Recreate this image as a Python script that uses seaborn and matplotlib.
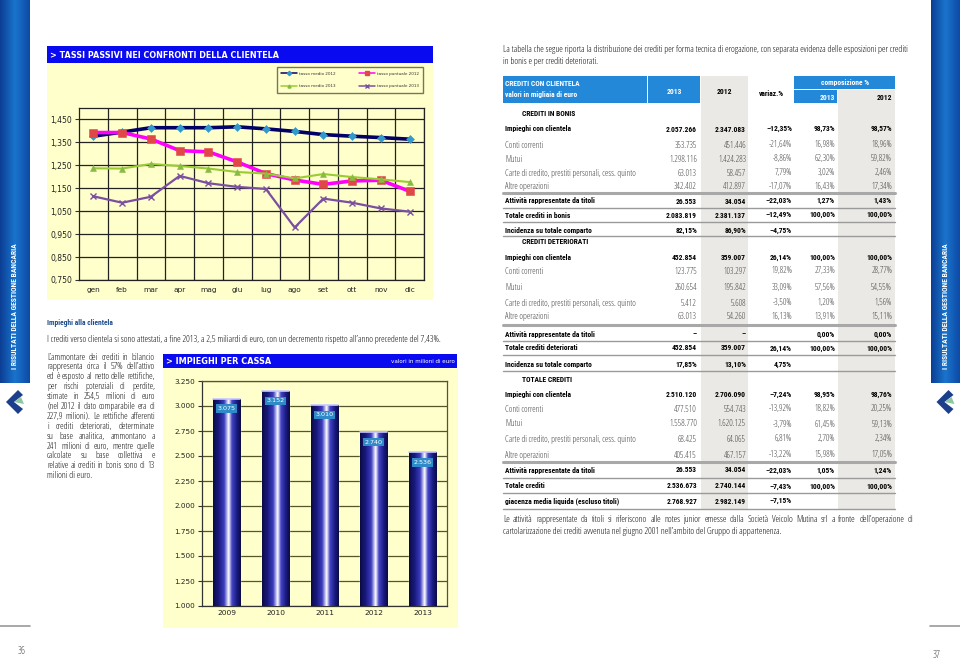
import warnings
import numpy as np
import pandas as pd
import matplotlib
matplotlib.use('Agg')
import matplotlib.pyplot as plt
import seaborn as sns
from matplotlib.patches import Rectangle, Polygon
from matplotlib.lines import Line2D
from matplotlib.colors import LinearSegmentedColormap

sns.set_theme(style='white')
plt.rcParams['font.family'] = ['DejaVu Sans']
warnings.filterwarnings('ignore')

W, H = 960, 664

# ---- line chart data (tassi passivi) ----
mesi = ['gen', 'feb', 'mar', 'apr', 'mag', 'giu', 'lug', 'ago', 'set', 'ott', 'nov', 'dic']
medio_2012 = [1.377, 1.395, 1.414, 1.414, 1.414, 1.418, 1.409, 1.398, 1.384, 1.377, 1.371, 1.364]
puntuale_2012 = [1.393, 1.393, 1.365, 1.314, 1.309, 1.265, 1.214, 1.186, 1.167, 1.182, 1.185, 1.137]
medio_2013 = [1.237, 1.236, 1.256, 1.247, 1.236, 1.221, 1.214, 1.193, 1.212, 1.199, 1.189, 1.177]
puntuale_2013 = [1.115, 1.087, 1.113, 1.204, 1.172, 1.156, 1.147, 0.979, 1.105, 1.087, 1.062, 1.048]
tassi_ticks = [0.75, 0.85, 0.95, 1.05, 1.15, 1.25, 1.35, 1.45]

# ---- bar chart data (impieghi per cassa) ----
anni = ['2009', '2010', '2011', '2012', '2013']
impieghi = [3075, 3152, 3010, 2740, 2536]
impieghi_ticks = [1000, 1250, 1500, 1750, 2000, 2250, 2500, 2750, 3000, 3250]

# ---- table data (crediti con clientela) ----
righe = ['CREDITI IN BONIS', 'Impieghi con clientela', 'Conti correnti', 'Mutui',
         'Carte di credito, prestiti personali, cess. quinto', 'Altre operazioni',
         'Attività rappresentate da titoli', 'Totale crediti in bonis', 'Incidenza su totale comparto',
         'CREDITI DETERIORATI', 'Impieghi con clientela', 'Conti correnti', 'Mutui',
         'Carte di credito, prestiti personali, cess. quinto', 'Altre operazioni',
         'Attività rappresentate da titoli', 'Totale crediti deteriorati', 'Incidenza su totale comparto',
         'TOTALE CREDITI', 'Impieghi con clientela', 'Conti correnti', 'Mutui',
         'Carte di credito, prestiti personali, cess. quinto', 'Altre operazioni',
         'Attività rappresentate da titoli', 'Totale crediti', 'giacenza media liquida (escluso titoli)']
tipo = ['s', 'b', 'n', 'n', 'n', 'n', 'b', 'b', 'b',
        's', 'b', 'n', 'n', 'n', 'n', 'b', 'b', 'b',
        's', 'b', 'n', 'n', 'n', 'n', 'b', 'b', 'b']
val_2013 = ['', '2.057.266', '353.735', '1.298.116', '63.013', '342.402', '26.553', '2.083.819', '82,15%',
            '', '452.854', '123.775', '260.654', '5.412', '63.013', '–', '452.854', '17,85%',
            '', '2.510.120', '477.510', '1.558.770', '68.425', '405.415', '26.553', '2.536.673', '2.768.927']
val_2012 = ['', '2.347.083', '451.446', '1.424.283', '58.457', '412.897', '34.054', '2.381.137', '86,90%',
            '', '359.007', '103.297', '195.842', '5.608', '54.260', '–', '359.007', '13,10%',
            '', '2.706.090', '554.743', '1.620.125', '64.065', '467.157', '34.054', '2.740.144', '2.982.149']
variaz = ['', '–12,35%', '-21,64%', '-8,86%', '7,79%', '-17,07%', '–22,03%', '–12,49%', '–4,75%',
          '', '26,14%', '19,82%', '33,09%', '-3,50%', '16,13%', '', '26,14%', '4,75%',
          '', '–7,24%', '-13,92%', '-3,79%', '6,81%', '-13,22%', '–22,03%', '–7,43%', '–7,15%']
comp_2013 = ['', '98,73%', '16,98%', '62,30%', '3,02%', '16,43%', '1,27%', '100,00%', '',
             '', '100,00%', '27,33%', '57,56%', '1,20%', '13,91%', '0,00%', '100,00%', '',
             '', '98,95%', '18,82%', '61,45%', '2,70%', '15,98%', '1,05%', '100,00%', '']
comp_2012 = ['', '98,57%', '18,96%', '59,82%', '2,46%', '17,34%', '1,43%', '100,00%', '',
             '', '100,00%', '28,77%', '54,55%', '1,56%', '15,11%', '0,00%', '100,00%', '',
             '', '98,76%', '20,25%', '59,13%', '2,34%', '17,05%', '1,24%', '100,00%', '']

# layout (pixels, measured on the page)
row_y = [113, 129, 145, 159, 173, 187, 201, 215, 230,
         241, 258, 271, 287, 303, 317, 334, 348, 364,
         379, 394, 409, 424, 439, 455, 470, 486, 501]
sep_y = [(193, 2.2), (208, 1), (222, 1), (236, 1),
         (325, 2.2), (341, 1), (355, 1), (371, 1),
         (462, 2.2), (478, 1), (493, 1), (509, 1)]

YELLOW = '#ffffcc'
TITLE_BLUE = '#0a0af0'
HEAD_BLUE = '#2488d8'
GREY_COL = '#ebe9e5'

fig = plt.figure(figsize=(W / 100, H / 100), dpi=100)
fig.patch.set_facecolor('white')
renderer = fig.canvas.get_renderer()


def raw_width(s, size, **font):
    t = fig.text(0, 0, s, fontsize=size, **font)
    w = t.get_window_extent(renderer).width
    t.remove()
    return w


# pick the narrowest installed sans for each weight (the report uses a condensed face)
candidates = [dict(family='Liberation Sans Narrow'), dict(family='Roboto Condensed'),
              dict(family='Noto Sans', fontstretch='condensed'), dict(family='Noto Sans Condensed'),
              dict(family='DejaVu Sans', fontstretch='condensed'), dict(family='Open Sans', fontstretch='condensed'),
              dict(family='Liberation Sans')]
sample = 'Carte di credito, prestiti personali, cess. quinto'
FONT_N = min(candidates, key=lambda f: raw_width(sample, 10, fontweight='normal', **f))
FONT_B = min(candidates, key=lambda f: raw_width(sample, 10, fontweight='bold', **f))


def font_for(weight):
    return FONT_B if weight == 'bold' else FONT_N


def fx(x):
    return x / W


def fy(y):
    return 1 - y / H


def width_px(s, size, weight='normal'):
    return raw_width(s, size, fontweight=weight, **font_for(weight))


def fit(s, target, weight='normal'):
    # font size that makes s about target pixels wide
    return 10 * target / width_px(s, 10, weight)


def box(x0, y0, x1, y1, color, **kw):
    fig.add_artist(Rectangle((fx(x0), fy(y1)), (x1 - x0) / W, (y1 - y0) / H,
                             transform=fig.transFigure, facecolor=color,
                             edgecolor=kw.pop('edgecolor', 'none'), zorder=kw.pop('zorder', 0), **kw))


def put(x, y, s, **kw):
    kw.setdefault('va', 'center')
    fig.text(fx(x), fy(y), s, **kw)


def say(x, y, s, **kw):
    # body text in the report font
    put(x, y, s, **font_for(kw.get('fontweight', 'normal')), **kw)


def say_justified(x, y, s, target, size, **kw):
    words = s.split(' ')
    ww = [width_px(w, size) for w in words]
    gap = (target - sum(ww)) / max(len(words) - 1, 1)
    cur = x
    for w, wpx in zip(words, ww):
        say(cur, y, w, fontsize=size, **kw)
        cur += wpx + gap


def hline(x0, x1, y, color, lw=1):
    fig.add_artist(Line2D([fx(x0), fx(x1)], [fy(y), fy(y)], transform=fig.transFigure,
                          color=color, lw=lw, zorder=2))


def axes_px(x0, y0, x1, y1, **kw):
    return fig.add_axes([fx(x0), fy(y1), (x1 - x0) / W, (y1 - y0) / H], **kw)


TEXT = '#111111'

# ---- side bars ----
side_cmap = LinearSegmentedColormap.from_list('side', ['#0b3f95', '#1a74cc', '#0d4aa6'])
side_txt = 'I RISULTATI DELLA GESTIONE BANCARIA'
side_fs = fit(side_txt, 127, 'bold')
for sx0, sx1 in [(0, 30), (931, 960)]:
    sa = axes_px(sx0, 0, sx1, 383)
    sa.imshow(np.linspace(0, 1, 50).reshape(1, -1), cmap=side_cmap, aspect='auto')
    sa.set_axis_off()
    say((sx0 + sx1) / 2, 306, side_txt, rotation=90, ha='center', color='white',
        fontsize=side_fs, fontweight='bold')
    # small logo
    cx, cy = (sx0 + sx1) / 2 + 3, 402
    fig.add_artist(Polygon([(fx(cx - 12), fy(cy)), (fx(cx), fy(cy - 12)), (fx(cx + 5), fy(cy - 7)),
                            (fx(cx - 4), fy(cy)), (fx(cx + 5), fy(cy + 7)), (fx(cx), fy(cy + 12))],
                           closed=True, transform=fig.transFigure, facecolor='#1c3f8c', edgecolor='none'))
    fig.add_artist(Polygon([(fx(cx - 4), fy(cy)), (fx(cx + 3), fy(cy - 5)), (fx(cx + 6), fy(cy + 2))],
                           closed=True, transform=fig.transFigure, facecolor='#8cc7a0', edgecolor='none'))

hline(0, 30, 626, '#999999', 1.2)
hline(930, 960, 626, '#999999', 1.2)
say(22, 651, '36', ha='center', fontsize=7, color='#444444')
say(937, 656, '37', ha='center', fontsize=7, color='#444444')

# ---- line chart panel ----
box(47, 46, 433, 63, TITLE_BLUE)
put(50, 55, '> TASSI PASSIVI NEI CONFRONTI DELLA CLIENTELA', color='white',
    fontsize=5.8, fontweight='bold')
box(47, 63, 433, 300, YELLOW)

ax = axes_px(79, 108, 424, 280)
ax.set_facecolor(YELLOW)
series = [
    (medio_2012, 'tasso medio 2012', '#000066', 'D', '#3399cc', 2.6, 4.2),
    (puntuale_2012, 'tasso puntuale 2012', '#ff00ff', 's', '#e04848', 2.6, 5.5),
    (medio_2013, 'tasso medio 2013', '#99cc33', '^', '#88bb44', 1.5, 4.5),
    (puntuale_2013, 'tasso puntuale 2013', '#7b4fa0', 'x', '#7b4fa0', 1.6, 4.5),
]
handles = {}
for vals, name, lc, mk, mc, lw, ms in series:
    sns.lineplot(x=mesi, y=vals, ax=ax, color=lc, lw=lw, marker=mk, markersize=ms,
                 markerfacecolor=mc, markeredgecolor=mc, markeredgewidth=1 if mk == 'x' else 0.4,
                 sort=False, zorder=3)
    handles[name] = Line2D([], [], color=lc, lw=1.1, marker=mk, markersize=2.2,
                           markerfacecolor=mc, markeredgecolor=mc, label=name)
ax.set_xlim(-0.5, 11.5)
ax.set_ylim(0.75, 1.5)
ax.set_yticks(tassi_ticks)
ax.set_yticklabels([f'{t:.3f}'.replace('.', ',') for t in tassi_ticks], fontsize=5.5, color='#222222')
ax.set_xticks(range(12))
ax.set_xticklabels(mesi, fontsize=5.3, color='#222222')
ax.set_xticks(np.arange(12) + 0.5, minor=True)
ax.tick_params(axis='x', which='major', length=0, pad=5)
ax.tick_params(axis='x', which='minor', length=3, color='#333333', width=0.8, direction='out')
ax.tick_params(axis='y', length=3, color='#333333', width=0.8, direction='out', pad=2, left=True)
ax.grid(True, axis='y', which='major', color='#222222', lw=0.9)
ax.grid(True, axis='x', which='minor', color='#222222', lw=0.9)
ax.set_axisbelow(True)
for sp in ax.spines.values():
    sp.set_color('#222222')
    sp.set_linewidth(0.9)
ax.set_xlabel('')
ax.set_ylabel('')
leg_order = ['tasso medio 2012', 'tasso medio 2013', 'tasso puntuale 2012', 'tasso puntuale 2013']
leg = ax.legend(handles=[handles[n] for n in leg_order], ncol=2, loc='center', fontsize=3.0,
                frameon=True, bbox_to_anchor=(fx(277), fy(93), (423 - 277) / W, (93 - 67) / H),
                bbox_transform=fig.transFigure, mode='expand', borderaxespad=0, borderpad=1.0,
                handlelength=3.8, handletextpad=0.4, columnspacing=5, labelspacing=2.1,
                fancybox=False)
leg.get_frame().set_edgecolor('#555533')
leg.get_frame().set_facecolor(YELLOW)
leg.get_frame().set_linewidth(1)
for t in leg.get_texts():
    t.set_color('#333333')

# ---- left page text ----
say(47, 323, 'Impieghi alla clientela', color='#1f4e8c',
    fontsize=fit('Impieghi alla clientela', 66, 'bold'), fontweight='bold')
intro = ('I crediti verso clientela si sono attestati, a fine 2013, a 2,5 miliardi di euro, '
         'con un decremento rispetto all\u2019anno precedente del 7,43%.')
say(47, 340, intro, color=TEXT, fontsize=fit(intro, 397))
para = ['L\u2019ammontare dei crediti in bilancio',
        'rappresenta circa il 57% dell\u2019attivo',
        'ed è esposto al netto delle rettifiche,',
        'per rischi potenziali di perdite,',
        'stimate in 254,5 milioni di euro',
        '(nel 2012 il dato comparabile era di',
        '227,9 milioni). Le rettifiche afferenti',
        'i crediti deteriorati, determinate',
        'su base analitica, ammontano a',
        '241 milioni di euro, mentre quelle',
        'calcolate su base collettiva e',
        'relative ai crediti in bonis sono di 13',
        'milioni di euro.']
para_fs = min(fit(line, 108) for line in para[:-1])
for i, line in enumerate(para):
    if i < len(para) - 1:
        say_justified(47, 357 + i * 9.9, line, 108, para_fs, color=TEXT)
    else:
        say(47, 357 + i * 9.9, line, color=TEXT, fontsize=para_fs)

# ---- bar chart panel ----
box(163, 354, 457, 368, TITLE_BLUE)
put(166, 361.5, '> IMPIEGHI PER CASSA', color='white', fontsize=5.9, fontweight='bold')
put(455, 361.5, 'valori in milioni di euro', color='white', fontsize=4.1, ha='right')
box(163, 368, 458, 628, YELLOW)

ax2 = axes_px(202, 381, 447, 606)
ax2.set_facecolor(YELLOW)
sns.barplot(x=anni, y=impieghi, ax=ax2, color='#14146e', width=0.56, saturation=1, zorder=2)
bar_cmap = LinearSegmentedColormap.from_list(
    'cyl', [(0, '#0b0b45'), (0.2, '#1a1a80'), (0.4, '#3d3dc0'), (0.56, '#ffffff'),
            (0.68, '#4444c8'), (0.86, '#1a1a80'), (1, '#0b0b45')])
grad = np.linspace(0, 1, 100).reshape(1, -1)
for p in ax2.patches:
    x0, w, h = p.get_x(), p.get_width(), p.get_height()
    im = ax2.imshow(grad, cmap=bar_cmap, aspect='auto',
                    extent=[x0, x0 + w, impieghi_ticks[0], h], zorder=3)
    im.set_clip_path(p)
    ax2.plot([x0, x0 + w], [h, h], color='#c8c8ff', lw=1.2, zorder=4)
for i, v in enumerate(impieghi):
    ax2.text(i, v - 100, f'{v:,}'.replace(',', '.'), ha='center', va='center', fontsize=4.6,
             color='white', zorder=5,
             bbox=dict(facecolor='#2f8ac8', edgecolor='none', pad=1.2))
ax2.set_xlim(-0.5, 4.5)
ax2.set_ylim(impieghi_ticks[0], impieghi_ticks[-1])
ax2.set_yticks(impieghi_ticks)
ax2.set_yticklabels([f'{t:,}'.replace(',', '.') for t in impieghi_ticks], fontsize=5.2, color='#222222')
ax2.set_xticks(range(5))
ax2.set_xticklabels(anni, fontsize=5.4, color='#222222')
ax2.tick_params(axis='x', length=0, pad=3)
ax2.tick_params(axis='y', length=3, color='#333333', width=0.8, direction='out', pad=2, left=True)
ax2.grid(True, axis='y', color='#55552a', lw=0.9)
ax2.set_axisbelow(True)
for name, sp in ax2.spines.items():
    sp.set_color('#333333' if name in ('left', 'bottom') else '#55552a')
    sp.set_linewidth(0.9)
ax2.set_xlabel('')
ax2.set_ylabel('')

# ---- right page text ----
top1 = ('La tabella che segue riporta la distribuzione dei crediti per forma tecnica di erogazione, '
        'con separata evidenza delle esposizioni per crediti')
body_fs = fit(top1, 411)
say(503, 50, top1, color=TEXT, fontsize=body_fs)
say(503, 61, 'in bonis e per crediti deteriorati.', color=TEXT, fontsize=body_fs)
foot1 = ('Le attività rappresentate da titoli si riferiscono alle notes junior emesse dalla Società '
         'Veicolo Mutina srl a fronte dell\u2019operazione di')
foot_fs = min(body_fs, fit(foot1, 410))
say_justified(503, 520, foot1, 410, foot_fs, color=TEXT)
say(503, 532, 'cartolarizzazione dei crediti avvenuta nel giugno 2001 nell\u2019ambito del Gruppo di appartenenza.',
    color=TEXT, fontsize=foot_fs)

# ---- table ----
box(503, 76, 647, 103, HEAD_BLUE)
box(648, 76, 700, 103, HEAD_BLUE)
box(701, 76, 748, 509, GREY_COL)
box(794, 76, 895, 89, HEAD_BLUE)
box(794, 90, 837, 103, HEAD_BLUE)
box(838, 90, 895, 509, GREY_COL)
fs_bold = fit('giacenza media liquida (escluso titoli)', 115, 'bold')
fs_norm = fit('Carte di credito, prestiti personali, cess. quinto', 132)
tk = dict(fontsize=fs_bold, fontweight='bold')
say(505, 84, 'CREDITI CON CLIENTELA', color='white', **tk)
say(505, 94, 'valori in migliaia di euro', color='white', **tk)
say(674, 91, '2013', color='white', ha='center', **tk)
say(724, 91, '2012', color='black', ha='center', **tk)
say(771, 93, 'variaz.%', color='black', ha='center', **tk)
say(845, 83, 'composizione %', color='white', ha='center', **tk)
say(827, 97, '2013', color='white', ha='center', **tk)
say(892, 97, '2012', color='black', ha='right', **tk)

col_right = [697, 746, 792, 835, 892]
for i, y in enumerate(row_y):
    k = tipo[i]
    if k == 's':
        say(522, y, righe[i], color='black', **tk)
        continue
    style = dict(fontsize=fs_bold if k == 'b' else fs_norm,
                 fontweight='bold' if k == 'b' else 'normal',
                 color='black' if k == 'b' else '#444444')
    say(505, y, righe[i], **style)
    for xr, col in zip(col_right, [val_2013, val_2012, variaz, comp_2013, comp_2012]):
        say(xr, y, col[i], ha='right', **style)
for y, lw in sep_y:
    hline(503, 895, y, '#a8a8a8' if lw > 1 else '#9a9a9a', lw)

fig.savefig('out.png', dpi=100, facecolor='white')
